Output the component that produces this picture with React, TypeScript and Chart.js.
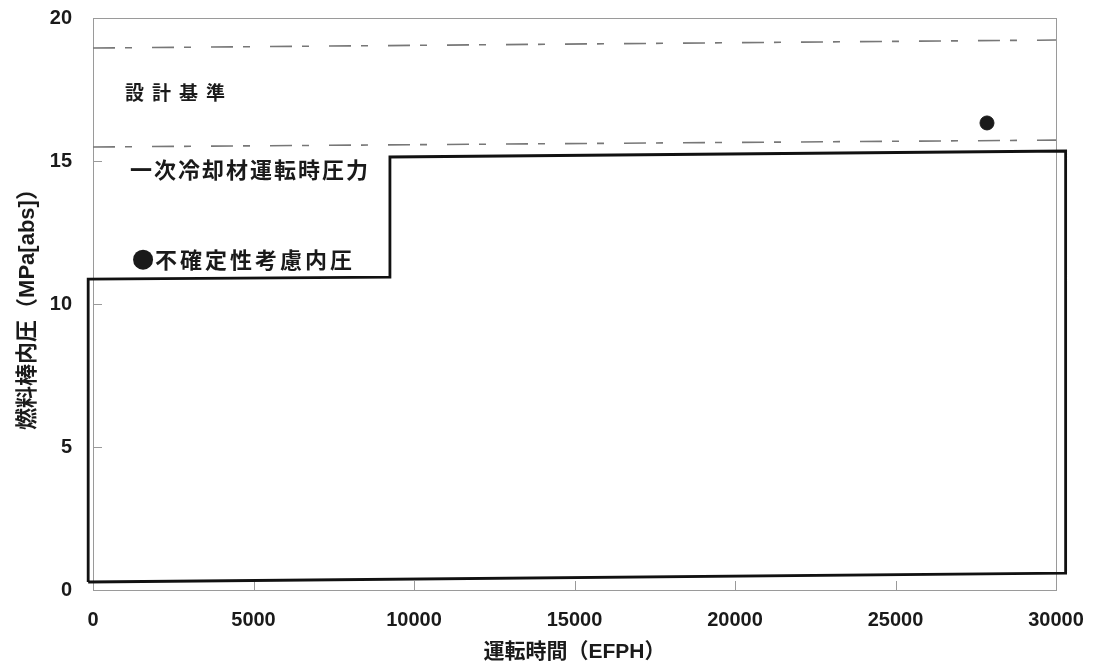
import React, { useEffect, useRef } from "react";
import { Chart, registerables } from "chart.js";

Chart.register(...registerables);

// ---- data ----
const xTickValues = [0, 5000, 10000, 15000, 20000, 25000, 30000];
const yTickValues = [0, 5, 10, 15, 20];

// 一次冷却材運転時圧力 (closed step outline)
const coolantTimes = [-150, -150, 9250, 9250, 30300, 30300, -150];
const coolantPressure = [0.28, 10.87, 10.94, 15.14, 15.35, 0.59, 0.28];

// 設計基準 (two dash-dot lines)
const designTimes = [0, 30000];
const designUpper = [18.95, 19.23];
const designLower = [15.49, 15.73];

// 不確定性考慮内圧
const uncertTimes = [27850];
const uncertPressure = [16.33];

const xTitle = "運転時間（EFPH）";
const yTitle = "燃料棒内圧（MPa[abs]）";
const labelDesign = "設計基準";
const labelCoolant = "一次冷却材運転時圧力";
const labelUncert = "不確定性考慮内圧";

const JP = '"Noto Sans CJK JP", "Noto Sans", sans-serif';
const MIX = '"Liberation Sans", "Noto Sans CJK JP", sans-serif';
const NUM = '"Liberation Sans", Arial, sans-serif';

const zip = (xs: number[], ys: number[]) => xs.map((x, i) => ({ x, y: ys[i] }));

const decorPlugin = {
  id: "decor",
  beforeDatasetsDraw(chart: any) {
    const { ctx, chartArea: a, scales } = chart;
    ctx.save();
    ctx.strokeStyle = "#9a9a9a";
    ctx.lineWidth = 1;
    ctx.strokeRect(a.left + 0.5, a.top + 0.5, a.right - a.left, a.bottom - a.top);
    // inner tick marks
    ctx.beginPath();
    scales.x.ticks.forEach((t: any) => {
      const px = Math.round(scales.x.getPixelForValue(t.value)) + 0.5;
      ctx.moveTo(px, a.bottom);
      ctx.lineTo(px, a.bottom - 9);
    });
    scales.y.ticks.forEach((t: any) => {
      const py = Math.round(scales.y.getPixelForValue(t.value)) + 0.5;
      ctx.moveTo(a.left, py);
      ctx.lineTo(a.left + 9, py);
    });
    ctx.stroke();
    ctx.restore();
  },
  afterDatasetsDraw(chart: any) {
    const { ctx, scales } = chart;
    const X = (v: number) => scales.x.getPixelForValue(v);
    const Y = (v: number) => scales.y.getPixelForValue(v);
    ctx.save();
    ctx.fillStyle = "#1a1a1a";
    ctx.textBaseline = "middle";
    ctx.textAlign = "left";

    ctx.font = `bold 19px ${JP}`;
    (ctx as any).letterSpacing = "8px";
    ctx.fillText(labelDesign, X(1000), Y(17.4));

    ctx.font = `bold 22px ${JP}`;
    (ctx as any).letterSpacing = "2px";
    ctx.fillText(labelCoolant, X(1150), Y(14.7));

    ctx.beginPath();
    ctx.arc(X(1560), Y(11.55), 10, 0, Math.PI * 2);
    ctx.fill();
    ctx.font = `bold 22px ${JP}`;
    (ctx as any).letterSpacing = "3px";
    ctx.fillText(labelUncert, X(1930), Y(11.55));
    ctx.restore();
  },
};

export default function App() {
  const ref = useRef<HTMLCanvasElement | null>(null);
  useEffect(() => {
    if (!ref.current) return;
    const chart = new Chart(ref.current, {
      type: "scatter",
      data: {
        datasets: [
          {
            data: zip(designTimes, designUpper),
            showLine: true,
            borderColor: "#777",
            borderWidth: 1.6,
            borderDash: [22, 10, 7, 20],
            pointRadius: 0,
          },
          {
            data: zip(designTimes, designLower),
            showLine: true,
            borderColor: "#777",
            borderWidth: 1.6,
            borderDash: [22, 10, 7, 20],
            pointRadius: 0,
          },
          {
            data: zip(coolantTimes, coolantPressure),
            showLine: true,
            borderColor: "#111",
            borderWidth: 2.8,
            pointRadius: 0,
            clip: false,
          } as any,
          {
            data: zip(uncertTimes, uncertPressure),
            pointRadius: 7,
            backgroundColor: "#1a1a1a",
            borderColor: "#1a1a1a",
          },
        ],
      },
      options: {
        animation: false,
        responsive: false,
        layout: { padding: { top: 18, right: 40, left: 0, bottom: 0 } },
        plugins: { legend: { display: false }, tooltip: { enabled: false } },
        scales: {
          x: {
            type: "linear",
            min: 0,
            max: 30000,
            afterBuildTicks: (s: any) => {
              s.ticks = xTickValues.map((value) => ({ value }));
            },
            afterFit: (s: any) => {
              s.height = 82;
              s.paddingLeft = 0;
              s.paddingRight = 0;
            },
            grid: { display: false, drawTicks: false },
            border: { display: false },
            ticks: {
              padding: 18,
              color: "#1a1a1a",
              font: { family: NUM, size: 20, weight: "bold" },
              callback: (v: any) => String(v),
            },
            title: {
              display: true,
              text: xTitle,
              color: "#1a1a1a",
              font: { family: MIX, size: 21, weight: "bold" },
              padding: { top: 0, bottom: 7 },
            },
          },
          y: {
            type: "linear",
            min: 0,
            max: 20,
            afterBuildTicks: (s: any) => {
              s.ticks = yTickValues.map((value) => ({ value }));
            },
            afterFit: (s: any) => {
              s.width = 93;
              s.paddingTop = 0;
              s.paddingBottom = 0;
            },
            grid: { display: false, drawTicks: false },
            border: { display: false },
            ticks: {
              padding: 21,
              color: "#1a1a1a",
              font: { family: NUM, size: 20, weight: "bold" },
              callback: (v: any) => String(v),
            },
            title: {
              display: true,
              text: yTitle,
              color: "#1a1a1a",
              font: { family: MIX, size: 22, weight: "bold" },
              padding: { top: 15, bottom: 0 },
            },
          },
        },
      },
      plugins: [decorPlugin],
    });
    return () => chart.destroy();
  }, []);
  return (
    <div style={{ position: "absolute", left: 0, top: 0, width: 1096, height: 672, background: "#fff" }}>
      <canvas ref={ref} width={1096} height={672} style={{ display: "block" }} />
    </div>
  );
}
